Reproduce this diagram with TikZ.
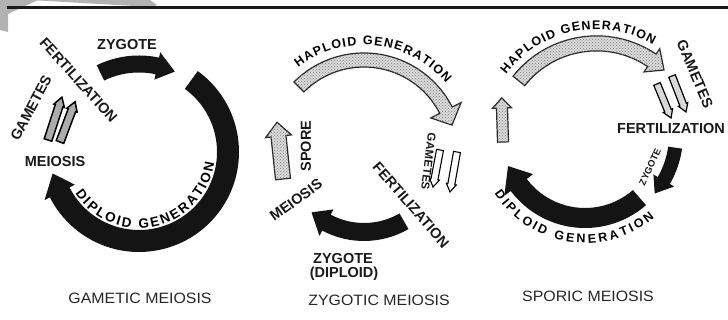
\documentclass[tikz,border=0pt]{standalone}
\usepackage{fontspec}
\setmainfont{Liberation Sans}
\newfontfamily\ttlfont{Liberation Sans}[FakeStretch=1.06]
\usetikzlibrary{decorations.text,patterns}

\newcommand\lbl{\fontsize{14.5}{15}\selectfont\bfseries}
\newcommand\ttl{\ttlfont\fontsize{15}{16}\selectfont}
\newcommand\sml{\fontsize{11.5}{12}\selectfont\bfseries}
\newcommand\zyg{\fontsize{9.5}{10}\selectfont\bfseries}
\newcommand\arcf{\fontsize{12.5}{13}\selectfont\bfseries}
\newcommand\arcg{\fontsize{13.5}{14}\selectfont\bfseries}

% curved band arrow: #1 style, #2 cx, #3 cy, #4 r, #5 width, #6 start angle, #7 head base angle, #8 tip angle, #9 head half width
\newcommand\bandarrow[9]{%
  \pgfmathsetmacro\bRo{#4+#5/2}\pgfmathsetmacro\bRi{#4-#5/2}%
  \pgfmathsetmacro\bWo{#4+#9}\pgfmathsetmacro\bWi{#4-#9}%
  \path[#1] ([shift={(#2,#3)}]#6:\bRo pt) arc[start angle=#6, end angle=#7, radius=\bRo pt]
    -- ([shift={(#2,#3)}]#7:\bWo pt) -- ([shift={(#2,#3)}]#8:#4 pt)
    -- ([shift={(#2,#3)}]#7:\bWi pt) -- ([shift={(#2,#3)}]#7:\bRi pt)
    arc[start angle=#7, end angle=#6, radius=\bRi pt] -- cycle;}

% straight arrow: #1 style, #2 x, #3 y, #4 angle, #5 length, #6 shaft width, #7 head width, #8 head length
\newcommand\strarrow[8]{%
  \path[#1, shift={(#2,#3)}, rotate=#4]
    (0,{-(#6)/2}) -- ({#5-#8},{-(#6)/2}) -- ({#5-#8},{-(#7)/2}) -- (#5,0)
    -- ({#5-#8},{(#7)/2}) -- ({#5-#8},{(#6)/2}) -- (0,{(#6)/2}) -- cycle;}

\tikzset{
  diploid/.style={fill=black!92},
  haploid/.style={draw=black!85, line width=1.2pt, fill=gray!30,
    postaction={pattern=crosshatch dots, pattern color=black!50}},
  gamdark/.style={draw=black, line width=1.5pt, fill=gray!65},
  gamwhite/.style={draw=black, line width=1.1pt, fill=white},
  gamlight/.style={draw=black, line width=1.2pt, fill=gray!30},
  lab/.style={inner sep=0pt, font=\lbl, text=black!90},
  ttl/.style={inner sep=0pt, font=\ttl, text=black!85},
}

\begin{document}
\begin{tikzpicture}[x=1pt,y=1pt]
\useasboundingbox (0,0) rectangle (728,320);
\fill[white] (0,0) rectangle (728,320);

% top artefacts
\fill[gray!60] (0,320) -- (38,320) -- (8,306) -- (8,288) -- (0,290) -- cycle;
\fill[gray!60] (30,320) -- (150,320) -- (157,315) -- (152,313) -- cycle;
\draw[line width=3pt, black!90] (7,312) -- (728,312);

% ===== Panel 1: gametic meiosis =====
\bandarrow{diploid}{139}{168}{89}{22}{54}{-153}{-166}{17}
\bandarrow{diploid}{139}{168}{88}{17}{116}{78}{66}{14}
\path[decorate, decoration={text along path, text={|\arcg|DIPLOID GENERATION}, text align={fit to path}}]
  ([shift={(139,168)}]-147:76pt) arc[start angle=-147, end angle=-8, radius=76pt];
\strarrow{gamdark}{48}{180}{72}{45}{8}{11}{9}
\strarrow{gamdark}{60}{178}{69.4}{43}{8}{11}{9}
\node[lab] (zyg1) at (127,275) {ZYGOTE};
\node[lab, rotate=-48] (fert1) at (78.5,240) {FERTILIZATION};
\node[lab, rotate=62] (gam1) at (31,212) {GAMETES};
\node[lab] (mei1) at (55,158) {MEIOSIS};
\node[ttl] (t1) at (140,22) {GAMETIC MEIOSIS};

% ===== Panel 2: zygotic meiosis =====
\bandarrow{haploid}{364}{168}{92}{14}{135}{27}{17}{17}
\path[decorate, decoration={text along path, text={|\arcf|HAPLOID GENERATION}, text align={fit to path}}]
  ([shift={(364,168)}]128:107pt) arc[start angle=128, end angle=40, radius=107pt];
\bandarrow{diploid}{364}{168}{80}{18}{-60}{-118}{-131}{15}
\strarrow{haploid}{283}{141}{96}{57}{15}{26}{14}
\strarrow{gamwhite}{440}{170}{-100.7}{37.7}{7}{10}{8}
\strarrow{gamwhite}{457}{168}{-100}{40.6}{7}{10}{8}
\node[lab, rotate=90] (spore2) at (306,174) {SPORE};
\node[lab, rotate=36] (mei2) at (296,120) {MEIOSIS};
\node[lab, rotate=-49] (fert2) at (411,115) {FERTILIZATION};
\node[lab, font=\sml, rotate=-97] (gam2) at (428.5,158.5) {GAMETES};
\node[lab] (zyg2) at (343,61) {ZYGOTE};
\node[lab] (dip2) at (344,46) {(DIPLOID)};
\node[ttl] (t2) at (379,20) {ZYGOTIC MEIOSIS};

% ===== Panel 3: sporic meiosis =====
\bandarrow{haploid}{596.5}{177.6}{99}{15}{141.6}{56}{47}{14}
\path[decorate, decoration={text along path, text={|\arcf|HAPLOID GENERATION}, text align={fit to path}}]
  ([shift={(596.5,177.6)}]143:113pt) arc[start angle=143, end angle=60, radius=113pt];
\bandarrow{diploid}{585}{185}{83}{20}{-49}{-143}{-158}{18}
\bandarrow{diploid}{585}{185}{91}{14}{-8}{-30}{-40}{12}
\path[decorate, decoration={text along path, text={|\arcf|DIPLOID GENERATION}, text align={fit to path}}]
  ([shift={(585,185)}]-147:108pt) arc[start angle=-147, end angle=-50, radius=108pt];
\strarrow{haploid}{503}{178}{91.7}{44}{11}{19}{10}
\strarrow{gamlight}{657}{236}{-67.6}{36.8}{7}{10}{8}
\strarrow{gamlight}{672}{244}{-68.7}{38.6}{7}{10}{8}
\node[lab, rotate=-67] (gam3) at (695,246) {GAMETES};
\node[lab] (fert3) at (671,191) {FERTILIZATION};
\node[lab, font=\zyg, rotate=65] (zyg3) at (650,153) {ZYGOTE};
\node[ttl] (t3) at (588,24) {SPORIC MEIOSIS};
\end{tikzpicture}
\end{document}
